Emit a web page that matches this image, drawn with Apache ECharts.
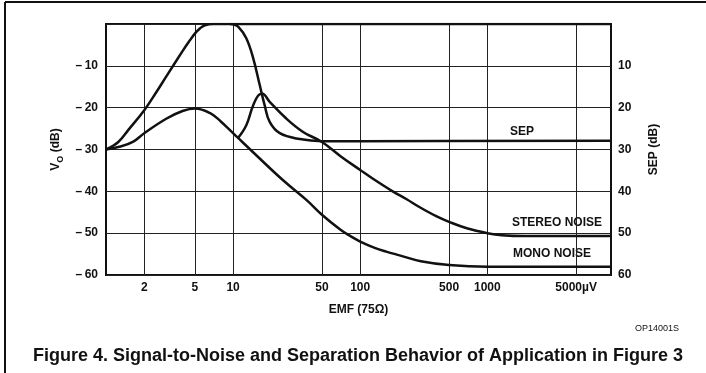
<!DOCTYPE html>
<html>
<head>
<meta charset="utf-8">
<style>
html,body{margin:0;padding:0;background:#fff;}
#chart{width:706px;height:373px;}
</style>
<script src="https://cdn.jsdelivr.net/npm/echarts@6/dist/echarts.min.js"></script>
</head>
<body>
<div id="chart"></div>
<script>
// ---- data ----
const xTickValues = [2, 5, 10, 50, 100, 500, 1000, 5000];
const xGridValues = [2, 5, 10, 50, 100, 500, 1000, 5000];
const leftTicks = [-60, -50, -40, -30, -20, -10];
const rightTicks = [10, 20, 30, 40, 50, 60];

// Signal output V_O (dB, left axis)
const signalEmf = [1, 1.25, 1.5, 2, 2.5, 3, 4, 4.5, 5, 5.5, 6, 7, 9400];
const signalVo  = [-30, -28.2, -25.3, -20.6, -16.2, -12.4, -6.5, -4.2, -2.3, -1.0, -0.3, 0, 0];

// Mono noise (dB, left axis)
const monoEmf = [1, 1.3, 1.64, 2, 3, 4, 5, 6.6, 8, 9.4, 11, 15, 24.6, 37.9, 50, 70, 82.6, 100, 130, 160, 204, 300, 500, 1000, 9400];
const monoVo  = [-30, -29.3, -28.1, -26.1, -22.6, -20.8, -20.2, -21.3, -23.3, -25.3, -27.3, -31.2, -37.3, -42.1, -45.6, -49.2, -50.6, -52.0, -53.5, -54.4, -55.3, -56.7, -57.6, -58, -58];

// Stereo noise (dB, left axis)
const stereoEmf = [10.9, 12.7, 14.4, 16.2, 17, 19.4, 26.2, 35.5, 50, 70, 100, 126, 180, 232, 294, 400, 500, 700, 1000, 1300, 2000, 9400];
const stereoVo  = [-27.3, -24.2, -19.4, -16.8, -16.7, -18.6, -22.6, -25.8, -28.2, -31.6, -34.9, -37.0, -40.0, -41.9, -43.8, -46.0, -47.3, -48.9, -50, -50.5, -50.7, -50.7];

// Separation (dB, right axis)
const sepEmf = [9.5, 10, 11, 12.7, 14.4, 16.2, 17.7, 19.4, 23.3, 33.4, 50, 100, 9400];
const sepDb  = [0, 0.1, 0.7, 3.4, 8.2, 14.6, 19.4, 23.4, 26.1, 27.5, 28, 28, 27.9];

const pairs = (xs, ys) => xs.map((x, i) => [x, ys[i]]);

const FONT = 'Liberation Sans';
const chart = echarts.init(document.getElementById('chart'), null, {renderer: 'canvas'});

const lineStyle = {color: '#111', width: 2.5};

chart.setOption({
  animation: false,
  backgroundColor: '#fff',
  grid: {left: 106, top: 24, width: 505, height: 251, show: true, borderColor: '#111', borderWidth: 2, containLabel: false},
  xAxis: {
    type: 'log', logBase: 10, min: 1, max: 9400,
    name: 'EMF (75Ω)', nameLocation: 'middle', nameGap: 29,
    nameTextStyle: {fontFamily: FONT, fontWeight: 'bold', fontSize: 12, color: '#111'},
    axisLine: {show: false}, axisTick: {show: false}, splitLine: {show: false},
    axisLabel: {
      customValues: xTickValues, margin: 7,
      fontFamily: FONT, fontWeight: 'bold', fontSize: 12, color: '#111',
      formatter: v => (v === 5000 ? '5000µV' : String(v))
    }
  },
  yAxis: [{
    type: 'value', min: -60, max: 0, interval: 10, position: 'left',
    name: '{v|V}{o|O}{v| (dB)}', nameLocation: 'middle', nameGap: 39, nameRotate: 90,
    nameTextStyle: {rich: {
      v: {fontFamily: FONT, fontWeight: 'bold', fontSize: 12, color: '#111', lineHeight: 14, verticalAlign: 'top'},
      o: {fontFamily: FONT, fontWeight: 'bold', fontSize: 9, color: '#111', lineHeight: 9, verticalAlign: 'top', padding: [6, 0, 0, 0]}
    }},
    axisLine: {show: false}, axisTick: {show: false},
    splitLine: {show: true, lineStyle: {color: '#222', width: 1}},
    axisLabel: {
      margin: 8, fontFamily: FONT, fontWeight: 'bold', fontSize: 12, color: '#111',
      formatter: v => (leftTicks.includes(v) ? '\u2013\u2009' + Math.abs(v) : '')
    }
  }, {
    type: 'value', min: 0, max: 60, interval: 10, inverse: true, position: 'right',
    name: 'SEP (dB)', nameLocation: 'middle', nameGap: 37, nameRotate: 90,
    nameTextStyle: {fontFamily: FONT, fontWeight: 'bold', fontSize: 12, color: '#111'},
    axisLine: {show: false}, axisTick: {show: false}, splitLine: {show: false},
    axisLabel: {
      margin: 7, fontFamily: FONT, fontWeight: 'bold', fontSize: 12, color: '#111',
      formatter: v => (rightTicks.includes(v) ? String(v) : '')
    }
  }],
  series: [
    {
      type: 'line', name: 'grid', data: [], silent: true,
      markLine: {
        silent: true, symbol: ['none', 'none'], label: {show: false},
        lineStyle: {color: '#222', width: 1, type: 'solid'},
        data: xGridValues.map(v => ({xAxis: v}))
      }
    },
    {type: 'line', name: 'Signal', data: pairs(signalEmf, signalVo), smooth: 0.4, showSymbol: false, lineStyle, z: 5},
    {type: 'line', name: 'Mono noise', data: pairs(monoEmf, monoVo), smooth: 0.4, showSymbol: false, lineStyle, z: 5},
    {type: 'line', name: 'Stereo noise', data: pairs(stereoEmf, stereoVo), smooth: 0.4, showSymbol: false, lineStyle, z: 5},
    {type: 'line', name: 'SEP', yAxisIndex: 1, data: pairs(sepEmf, sepDb), smooth: 0.4, showSymbol: false, lineStyle, z: 5}
  ],
  graphic: [
    {type: 'line', shape: {x1: 5, y1: 2, x2: 706, y2: 2}, style: {stroke: '#111', lineWidth: 2}},
    {type: 'line', shape: {x1: 5, y1: 2, x2: 5, y2: 373}, style: {stroke: '#111', lineWidth: 2}},
    {type: 'text', x: 522, y: 132, style: {text: 'SEP', fontFamily: FONT, fontWeight: 'bold', fontSize: 12, fill: '#111', align: 'center', verticalAlign: 'middle'}},
    {type: 'text', x: 557, y: 223, style: {text: 'STEREO NOISE', fontFamily: FONT, fontWeight: 'bold', fontSize: 12, fill: '#111', align: 'center', verticalAlign: 'middle'}},
    {type: 'text', x: 552, y: 254, style: {text: 'MONO NOISE', fontFamily: FONT, fontWeight: 'bold', fontSize: 12, fill: '#111', align: 'center', verticalAlign: 'middle'}},
    {type: 'text', x: 657, y: 329, style: {text: 'OP14001S', fontFamily: FONT, fontSize: 9, fill: '#111', align: 'center', verticalAlign: 'middle'}},
    {type: 'text', x: 358, y: 356, style: {text: 'Figure 4. Signal-to-Noise and Separation Behavior of Application in Figure 3', fontFamily: FONT, fontWeight: 'bold', fontSize: 18, fill: '#111', align: 'center', verticalAlign: 'middle'}}
  ]
});
</script>
</body>
</html>
